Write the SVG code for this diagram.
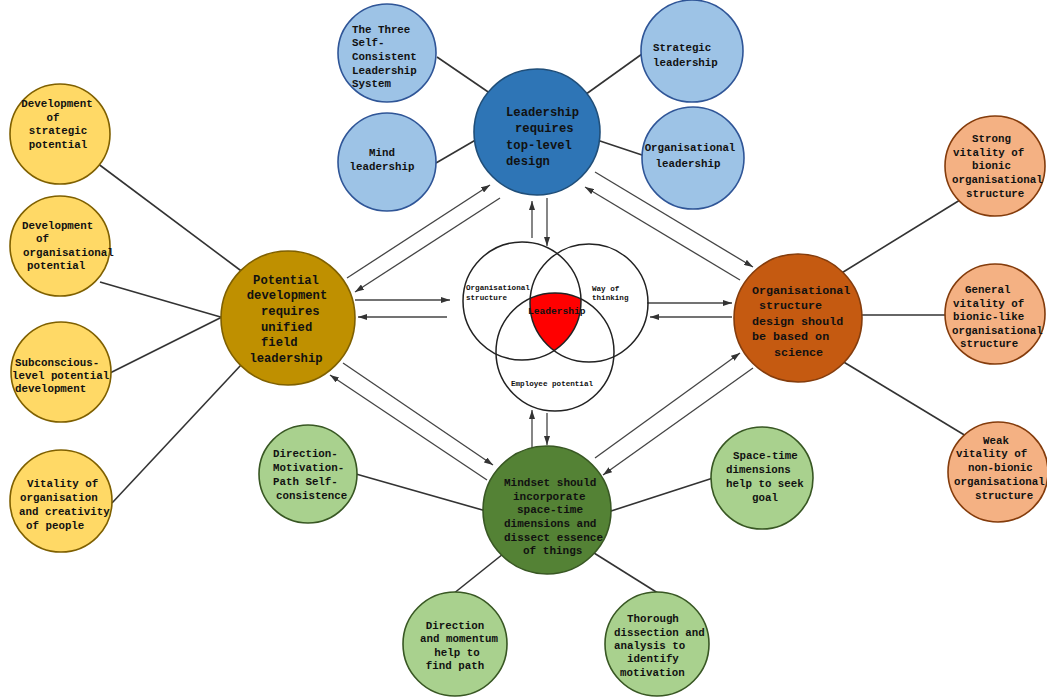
<svg xmlns="http://www.w3.org/2000/svg" width="1047" height="697" viewBox="0 0 1047 697">
  <style>
    text { font-family: "Liberation Mono", "DejaVu Sans Mono", monospace; font-weight: bold; fill: #111; }
    .hub text { font-size: 12.2px; }
    .sat text { font-size: 10.8px; }
    .mid { text-anchor: middle; }
    .node circle { stroke-width: 1.6; }
    .top { fill: #2E75B6; stroke: #1F4E79; }
    .blue { fill: #9DC3E6; stroke: #2F5597; }
    .gold { fill: #BF9000; stroke: #7F6000; }
    .yel { fill: #FFD966; stroke: #7F6000; }
    .rust { fill: #C55A11; stroke: #843C0C; }
    .peach { fill: #F4B183; stroke: #843C0C; }
    .dgreen { fill: #548235; stroke: #385723; }
    .lgreen { fill: #A9D18E; stroke: #385723; }
    .link { stroke: #333; stroke-width: 1.6; fill: none; }
    .flow { stroke: #444; stroke-width: 1.3; fill: none; marker-end: url(#head); }
    .venn { fill: none; stroke: #222; stroke-width: 1.5; }
    .venn-text { font-size: 7.6px; }
  </style>
  <defs>
    <marker id="head" markerUnits="userSpaceOnUse" markerWidth="9" markerHeight="6" refX="9" refY="3" orient="auto">
      <path d="M0,0 L9,3 L0,6 z" fill="#333"/>
    </marker>
    <clipPath id="clipLeft"><circle cx="522" cy="301" r="59"/></clipPath>
    <clipPath id="clipRight"><circle cx="589" cy="303" r="59"/></clipPath>
  </defs>
  <rect width="1047" height="697" fill="#fff"/>

  <!-- spokes and flow arrows -->
  <g id="connectors">
    <line class="link" x1="437" y1="57" x2="497" y2="98"/>
    <line class="link" x1="436" y1="163" x2="479" y2="138"/>
    <line class="link" x1="582" y1="97" x2="642" y2="54"/>
    <line class="link" x1="594" y1="139" x2="645" y2="156"/>

    <line class="link" x1="97" y1="163" x2="244" y2="273"/>
    <line class="link" x1="100" y1="282" x2="224" y2="318"/>
    <line class="link" x1="110" y1="373" x2="224" y2="316"/>
    <line class="link" x1="112" y1="503" x2="241" y2="365"/>

    <line class="link" x1="840" y1="274" x2="960" y2="200"/>
    <line class="link" x1="858" y1="315" x2="948" y2="315"/>
    <line class="link" x1="842" y1="361" x2="971" y2="439"/>

    <line class="link" x1="356" y1="474" x2="486" y2="511"/>
    <line class="link" x1="453" y1="594" x2="503" y2="554"/>
    <line class="link" x1="608" y1="512" x2="713" y2="478"/>
    <line class="link" x1="594" y1="553" x2="661" y2="595"/>

    <line class="flow" x1="532" y1="238" x2="532" y2="201"/>
    <line class="flow" x1="547" y1="198" x2="547" y2="246"/>
    <line class="flow" x1="532" y1="448" x2="532" y2="410"/>
    <line class="flow" x1="547" y1="413" x2="547" y2="445"/>

    <line class="flow" x1="355" y1="300" x2="450" y2="300"/>
    <line class="flow" x1="447" y1="317" x2="358" y2="317"/>
    <line class="flow" x1="647" y1="303" x2="732" y2="303"/>
    <line class="flow" x1="732" y1="317" x2="650" y2="317"/>

    <line class="flow" x1="347" y1="278" x2="490" y2="185"/>
    <line class="flow" x1="500" y1="198" x2="355" y2="292"/>
    <line class="flow" x1="595" y1="172" x2="753" y2="267"/>
    <line class="flow" x1="740" y1="280" x2="585" y2="187"/>
    <line class="flow" x1="343" y1="363" x2="493" y2="465"/>
    <line class="flow" x1="487" y1="480" x2="330" y2="375"/>
    <line class="flow" x1="595" y1="458" x2="740" y2="353"/>
    <line class="flow" x1="753" y1="368" x2="603" y2="475"/>
  </g>

  <!-- central three-circle diagram -->
  <g id="venn">
    <g clip-path="url(#clipLeft)">
      <g clip-path="url(#clipRight)">
        <circle cx="555" cy="352" r="59" fill="#FF0000"/>
      </g>
    </g>
    <circle class="venn" cx="522" cy="301" r="59"/>
    <circle class="venn" cx="589" cy="303" r="59"/>
    <circle class="venn" cx="555" cy="352" r="59"/>
    <text class="venn-text" x="466" y="290">Organisational</text>
    <text class="venn-text" x="466" y="300">structure</text>
    <text class="venn-text" x="592" y="291">Way of</text>
    <text class="venn-text" x="592" y="300">thinking</text>
    <text class="venn-text" x="511" y="386">Employee potential</text>
    <text x="528" y="314" style="font-size:9.6px">Leadership</text>
  </g>

  <!-- hub: top -->
  <g id="node-top" class="node hub">
    <circle class="top" cx="537" cy="132" r="63"/>
    <text x="506" y="116">Leadership</text>
    <text x="515" y="132">requires</text>
    <text x="506" y="149">top-level</text>
    <text x="506" y="165">design</text>
  </g>
  <g id="node-three-self" class="node sat">
    <circle class="blue" cx="387" cy="53" r="49"/>
    <text x="352" y="33">The Three</text>
    <text x="352" y="46">Self-</text>
    <text x="352" y="60">Consistent</text>
    <text x="352" y="74">Leadership</text>
    <text x="352" y="87">System</text>
  </g>
  <g id="node-mind" class="node sat">
    <circle class="blue" cx="387" cy="162" r="49"/>
    <text class="mid" x="382" y="156">Mind</text>
    <text class="mid" x="382" y="170">leadership</text>
  </g>
  <g id="node-strategic" class="node sat">
    <circle class="blue" cx="692" cy="51" r="51"/>
    <text x="653" y="51">Strategic</text>
    <text x="653" y="66">leadership</text>
  </g>
  <g id="node-org-leadership" class="node sat">
    <circle class="blue" cx="693" cy="158" r="51"/>
    <text class="mid" x="690" y="151">Organisational</text>
    <text class="mid" x="688" y="167">leadership</text>
  </g>

  <!-- hub: left -->
  <g id="node-left" class="node hub">
    <circle class="gold" cx="288" cy="318" r="67"/>
    <text class="mid" x="286" y="284">Potential</text>
    <text class="mid" x="287" y="299">development</text>
    <text x="261" y="315">requires</text>
    <text x="261" y="331">unified</text>
    <text x="261" y="346">field</text>
    <text class="mid" x="286" y="362">leadership</text>
  </g>
  <g id="node-strategic-potential" class="node sat">
    <circle class="yel" cx="60" cy="134" r="50"/>
    <text class="mid" x="57" y="107">Development</text>
    <text class="mid" x="53" y="121">of</text>
    <text class="mid" x="58" y="134">strategic</text>
    <text class="mid" x="58" y="148">potential</text>
  </g>
  <g id="node-org-potential" class="node sat">
    <circle class="yel" cx="60" cy="246" r="50"/>
    <text x="22" y="229">Development</text>
    <text x="36" y="242">of</text>
    <text x="23" y="256">organisational</text>
    <text x="27" y="269">potential</text>
  </g>
  <g id="node-subconscious" class="node sat">
    <circle class="yel" cx="61" cy="372" r="50"/>
    <text x="15" y="366">Subconscious-</text>
    <text x="12" y="379">level potential</text>
    <text x="15" y="392">development</text>
  </g>
  <g id="node-vitality" class="node sat">
    <circle class="yel" cx="61" cy="501" r="51"/>
    <text x="27" y="487">Vitality of</text>
    <text x="20" y="501">organisation</text>
    <text x="19" y="515">and creativity</text>
    <text x="26" y="529">of people</text>
  </g>

  <!-- hub: right -->
  <g id="node-right" class="node hub">
    <circle class="rust" cx="798" cy="318" r="64"/>
    <text x="752" y="294" style="font-size:11.7px">Organisational</text>
    <text x="759" y="309" style="font-size:11.7px">structure</text>
    <text x="752" y="325" style="font-size:11.7px">design should</text>
    <text x="752" y="340" style="font-size:11.7px">be based on</text>
    <text x="774" y="356" style="font-size:11.7px">science</text>
  </g>
  <g id="node-strong" class="node sat">
    <circle class="peach" cx="995" cy="166" r="50"/>
    <text x="972" y="142">Strong</text>
    <text x="953" y="156">vitality of</text>
    <text x="972" y="169">bionic</text>
    <text x="952" y="183">organisational</text>
    <text x="966" y="197">structure</text>
  </g>
  <g id="node-general" class="node sat">
    <circle class="peach" cx="995" cy="314" r="50"/>
    <text x="965" y="293">General</text>
    <text x="953" y="307">vitality of</text>
    <text x="953" y="320">bionic-like</text>
    <text x="952" y="334">organisational</text>
    <text x="960" y="347">structure</text>
  </g>
  <g id="node-weak" class="node sat">
    <circle class="peach" cx="998" cy="472" r="50"/>
    <text x="983" y="444">Weak</text>
    <text x="956" y="457">vitality of</text>
    <text x="968" y="471">non-bionic</text>
    <text x="954" y="485">organisational</text>
    <text x="975" y="499">structure</text>
  </g>

  <!-- hub: bottom -->
  <g id="node-bottom" class="node hub">
    <circle class="dgreen" cx="547" cy="510" r="64"/>
    <text x="504" y="486" style="font-size:11px">Mindset should</text>
    <text x="513" y="500" style="font-size:11px">incorporate</text>
    <text x="517" y="513" style="font-size:11px">space-time</text>
    <text x="504" y="527" style="font-size:11px">dimensions and</text>
    <text x="504" y="541" style="font-size:11px">dissect essence</text>
    <text x="523" y="554" style="font-size:11px">of things</text>
  </g>
  <g id="node-dmp" class="node sat">
    <circle class="lgreen" cx="308" cy="474" r="49"/>
    <text x="273" y="457">Direction-</text>
    <text x="273" y="471">Motivation-</text>
    <text x="273" y="485">Path Self-</text>
    <text x="276" y="499">consistence</text>
  </g>
  <g id="node-momentum" class="node sat">
    <circle class="lgreen" cx="455" cy="644" r="52"/>
    <text class="mid" x="455" y="629">Direction</text>
    <text class="mid" x="459" y="642">and momentum</text>
    <text class="mid" x="457" y="656">help to</text>
    <text class="mid" x="455" y="669">find path</text>
  </g>
  <g id="node-spacetime" class="node sat">
    <circle class="lgreen" cx="762" cy="478" r="51"/>
    <text x="733" y="459">Space-time</text>
    <text x="726" y="473">dimensions</text>
    <text x="726" y="487">help to seek</text>
    <text x="752" y="501">goal</text>
  </g>
  <g id="node-thorough" class="node sat">
    <circle class="lgreen" cx="657" cy="644" r="52"/>
    <text x="627" y="622">Thorough</text>
    <text x="614" y="636">dissection and</text>
    <text x="614" y="649">analysis to</text>
    <text x="627" y="662">identify</text>
    <text x="620" y="676">motivation</text>
  </g>
</svg>
